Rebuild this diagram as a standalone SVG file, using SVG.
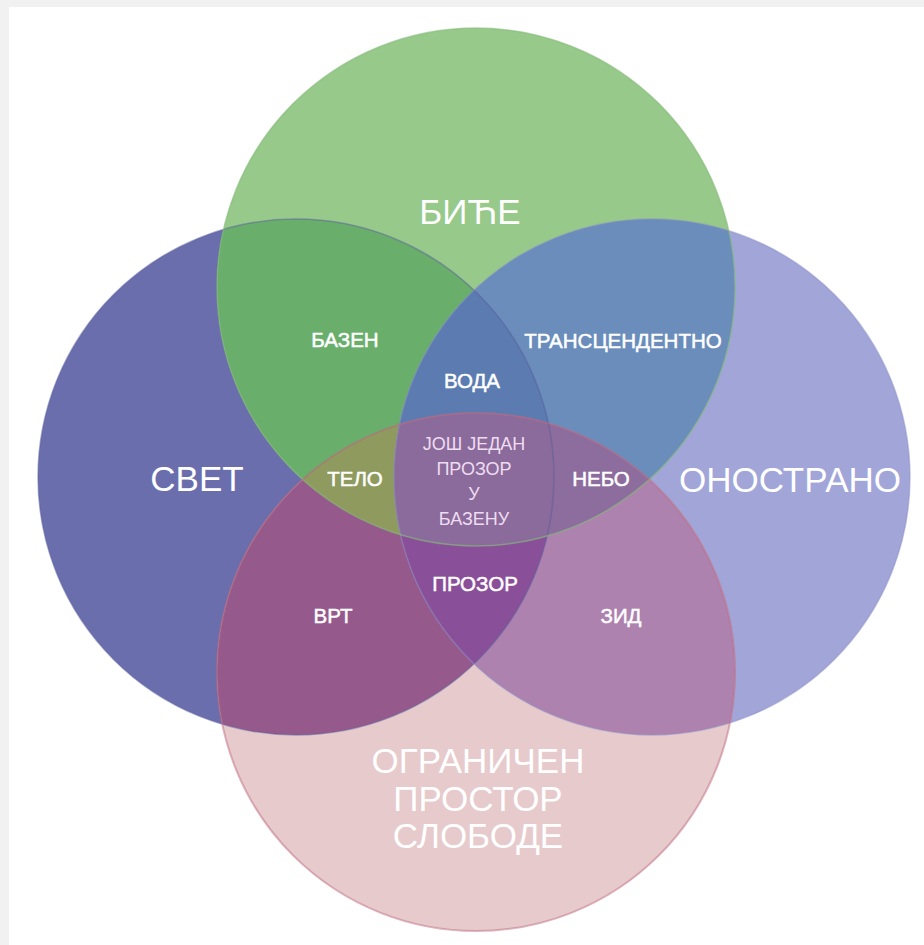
<svg xmlns="http://www.w3.org/2000/svg" width="924" height="945" viewBox="0 0 924 945">
<style>
.lbl{font-family:"Liberation Sans",Arial,sans-serif;fill:#ffffff;text-anchor:middle}
.big{font-size:35px}
.sm{font-size:20.5px;stroke:#ffffff;stroke-width:0.5}
.ctr{font-size:18px;fill:#EEDDF0}
</style>
<defs>
<clipPath id="cL"><circle cx="296" cy="477" r="258"/></clipPath>
<clipPath id="cR"><circle cx="652" cy="477" r="258"/></clipPath>
<clipPath id="cG"><circle cx="476" cy="287" r="259"/></clipPath>
<clipPath id="cP"><circle cx="476" cy="672" r="259"/></clipPath>
</defs>
<rect x="0" y="0" width="924" height="945" fill="#F1F1F1"/>
<rect x="9" y="7" width="915" height="938" fill="#FFFFFF"/>

<g id="svet">
<circle cx="296" cy="477" r="258" fill="#6A6EAD"/>
</g>
<g id="onostrano">
<circle cx="652" cy="477" r="258" fill="#A1A5D8"/>
</g>
<g id="bice">
<circle cx="476" cy="287" r="259" fill="#97C98B"/>
</g>
<g id="ogranicen">
<circle cx="476" cy="672" r="259" fill="#E6CACC"/>
</g>

<g id="overlaps">
<g clip-path="url(#cL)"><circle cx="476" cy="287" r="259" fill="#6AAE6C"/></g>
<g clip-path="url(#cR)"><circle cx="476" cy="287" r="259" fill="#6A8DBB"/></g>
<g clip-path="url(#cL)"><g clip-path="url(#cR)"><circle cx="476" cy="287" r="259" fill="#5B7BB1"/></g></g>
<g clip-path="url(#cL)"><circle cx="476" cy="672" r="259" fill="#955A8B"/></g>
<g clip-path="url(#cR)"><circle cx="476" cy="672" r="259" fill="#AE82AF"/></g>
<g clip-path="url(#cL)"><g clip-path="url(#cR)"><circle cx="476" cy="672" r="259" fill="#8A4F99"/></g></g>
<g clip-path="url(#cL)"><g clip-path="url(#cG)"><circle cx="476" cy="672" r="259" fill="#8F9A5E"/></g></g>
<g clip-path="url(#cR)"><g clip-path="url(#cG)"><circle cx="476" cy="672" r="259" fill="#8C6D9E"/></g></g>
<g clip-path="url(#cL)"><g clip-path="url(#cR)"><g clip-path="url(#cG)"><circle cx="476" cy="672" r="259" fill="#8B6A9C"/></g></g></g>
</g>

<g id="outlines" fill="none">
<circle cx="296" cy="477" r="258" stroke="#5A5E9E" stroke-width="1.5" opacity="0.5"/>
<circle cx="652" cy="477" r="258" stroke="#8C90C8" stroke-width="1.5" opacity="0.5"/>
<circle cx="476" cy="287" r="259" stroke="#86BB7A" stroke-width="1.5" opacity="0.6"/>
<circle cx="476" cy="672" r="259" stroke="#C06B80" stroke-width="2" opacity="0.5"/>
</g>

<g id="labels">
<text class="lbl big" x="470" y="224">БИЋЕ</text>
<text class="lbl big" x="197" y="491">СВЕТ</text>
<text class="lbl big" x="790" y="492">ОНОСТРАНО</text>
<text class="lbl big" x="478" y="773">ОГРАНИЧЕН</text>
<text class="lbl big" x="478" y="811">ПРОСТОР</text>
<text class="lbl big" x="478" y="848">СЛОБОДЕ</text>
<text class="lbl sm" x="345" y="347">БАЗЕН</text>
<text class="lbl sm" x="623" y="348">ТРАНСЦЕНДЕНТНО</text>
<text class="lbl sm" x="472" y="388">ВОДА</text>
<text class="lbl sm" x="355" y="486">ТЕЛО</text>
<text class="lbl sm" x="601" y="486">НЕБО</text>
<text class="lbl sm" x="333" y="623">ВРТ</text>
<text class="lbl sm" x="621" y="623">ЗИД</text>
<text class="lbl sm" x="475" y="591">ПРОЗОР</text>
<text class="lbl ctr" x="474" y="450">ЈОШ ЈЕДАН</text>
<text class="lbl ctr" x="474" y="475">ПРОЗОР</text>
<text class="lbl ctr" x="474" y="500">У</text>
<text class="lbl ctr" x="474" y="525">БАЗЕНУ</text>
</g>
</svg>
